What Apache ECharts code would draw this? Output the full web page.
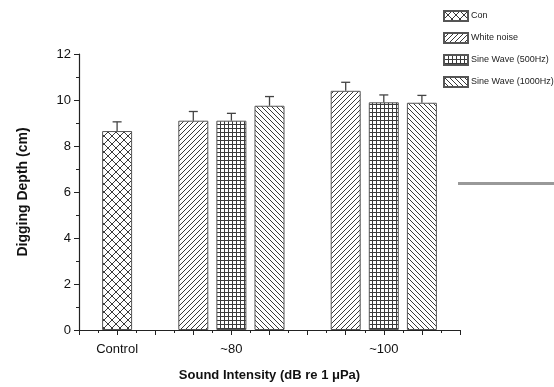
<!DOCTYPE html>
<html><head><meta charset="utf-8">
<script src="https://cdn.jsdelivr.net/npm/echarts@6/dist/echarts.min.js"></script>
<style>html,body{margin:0;padding:0;background:#fff}#c{width:554px;height:387px}</style>
</head><body><div id="c"></div>
<script>
var seriesNames = ['Con', 'White noise', 'Sine Wave (500Hz)', 'Sine Wave (1000Hz)'];
var categoryLabels = {1: 'Control', 4: '~80', 8: '~100'};
// [x position, mean, upper error]
var conData = [[1, 8.65, 0.4]];
var whiteData = [[3, 9.1, 0.4], [7, 10.4, 0.37]];
var sine500Data = [[4, 9.1, 0.32], [8, 9.9, 0.32]];
var sine1000Data = [[5, 9.75, 0.4], [9, 9.88, 0.32]];

function mk(w, h, draw) {
  var c = document.createElement('canvas'); c.width = w; c.height = h;
  var g = c.getContext('2d'); g.fillStyle = '#fff'; g.fillRect(0, 0, w, h);
  g.strokeStyle = '#3a3a3a'; g.lineWidth = 1; draw(g, w, h);
  return {image: c, repeat: 'repeat'};
}
function line(g, a, b, c, d) { g.beginPath(); g.moveTo(a, b); g.lineTo(c, d); g.stroke(); }
var patCross = mk(8, 8, function (g, s) { line(g, -1, -1, s + 1, s + 1); line(g, -1, s + 1, s + 1, -1); });
var patFwd = mk(5, 5, function (g, s) { line(g, -1, s + 1, s + 1, -1); line(g, -2, 2, 2, -2); line(g, s - 2, s + 2, s + 2, s - 2); });
var patBack = mk(5, 5, function (g, s) { line(g, -1, -1, s + 1, s + 1); line(g, -2, s - 2, 2, s + 2); line(g, s - 2, -2, s + 2, 2); });
var patGrid = mk(4, 4, function (g, s) { g.fillStyle = '#3a3a3a'; g.fillRect(0, 0, s, 1); g.fillRect(0, 0, 1, s); });
var pats = [patCross, patFwd, patGrid, patBack];
var datas = [conData, whiteData, sine500Data, sine1000Data];

var font = 'Arial, "Liberation Sans", sans-serif';
var series = [];
datas.forEach(function (d, i) {
  series.push({
    name: seriesNames[i], type: 'bar', barWidth: 30, barGap: '-100%',
    data: d.map(function (p) { return [p[0], p[1]]; }),
    itemStyle: {color: pats[i], borderColor: '#555', borderWidth: 1},
    emphasis: {disabled: true}, animation: false, z: 2
  });
});
var errData = [];
datas.forEach(function (d) { d.forEach(function (p) { errData.push([p[0], p[1], p[1] + p[2]]); }); });
series.push({
  type: 'custom', animation: false, z: 3, silent: true,
  data: errData,
  renderItem: function (params, api) {
    var a = api.coord([api.value(0), api.value(1)]);
    var b = api.coord([api.value(0), api.value(2)]);
    var st = {stroke: '#444', lineWidth: 1.3};
    return {type: 'group', children: [
      {type: 'line', shape: {x1: a[0], y1: a[1], x2: b[0], y2: b[1]}, style: st},
      {type: 'line', shape: {x1: b[0] - 4.5, y1: b[1], x2: b[0] + 4.5, y2: b[1]}, style: st}
    ]};
  }
});

var chart = echarts.init(document.getElementById('c'), null, {renderer: 'canvas'});
chart.setOption({
  animation: false,
  backgroundColor: '#fff',
  grid: {left: 79, right: 94, top: 54, bottom: 55},
  legend: {
    orient: 'vertical', left: 443, top: 10, padding: 0, itemWidth: 24, itemHeight: 10, itemGap: 10,
    icon: 'rect', selectedMode: false,
    data: seriesNames,
    textStyle: {fontFamily: font, fontSize: 9, color: '#222', padding: [0, 0, 0, -2]}
  },
  xAxis: {
    type: 'value', min: 0, max: 10, interval: 1,
    name: 'Sound Intensity (dB re 1 μPa)', nameLocation: 'middle', nameGap: 39,
    nameTextStyle: {fontFamily: font, fontSize: 13, fontWeight: 'bold', color: '#111'},
    axisLine: {show: true, lineStyle: {color: '#222', width: 1.2}},
    axisTick: {show: true, length: 5, lineStyle: {color: '#222'}},
    minorTick: {show: true, splitNumber: 2, length: 3, lineStyle: {color: '#222'}},
    splitLine: {show: false},
    axisLabel: {fontFamily: font, fontSize: 13, color: '#111', margin: 13,
      formatter: function (v) { return categoryLabels[v] || ''; }}
  },
  yAxis: {
    type: 'value', min: 0, max: 12, interval: 2,
    name: 'Digging Depth (cm)', nameLocation: 'middle', nameGap: 49,
    nameTextStyle: {fontFamily: font, fontSize: 14, fontWeight: 'bold', color: '#111'},
    axisLine: {show: true, lineStyle: {color: '#222', width: 1.2}},
    axisTick: {show: true, length: 5, lineStyle: {color: '#222'}},
    minorTick: {show: true, splitNumber: 2, length: 3, lineStyle: {color: '#222'}},
    splitLine: {show: false},
    axisLabel: {fontFamily: font, fontSize: 13, color: '#111', margin: 8}
  },
  graphic: [{type: 'rect', shape: {x: 458, y: 182, width: 96, height: 3}, style: {fill: '#999'}, silent: true}],
  series: series
});
</script></body></html>
